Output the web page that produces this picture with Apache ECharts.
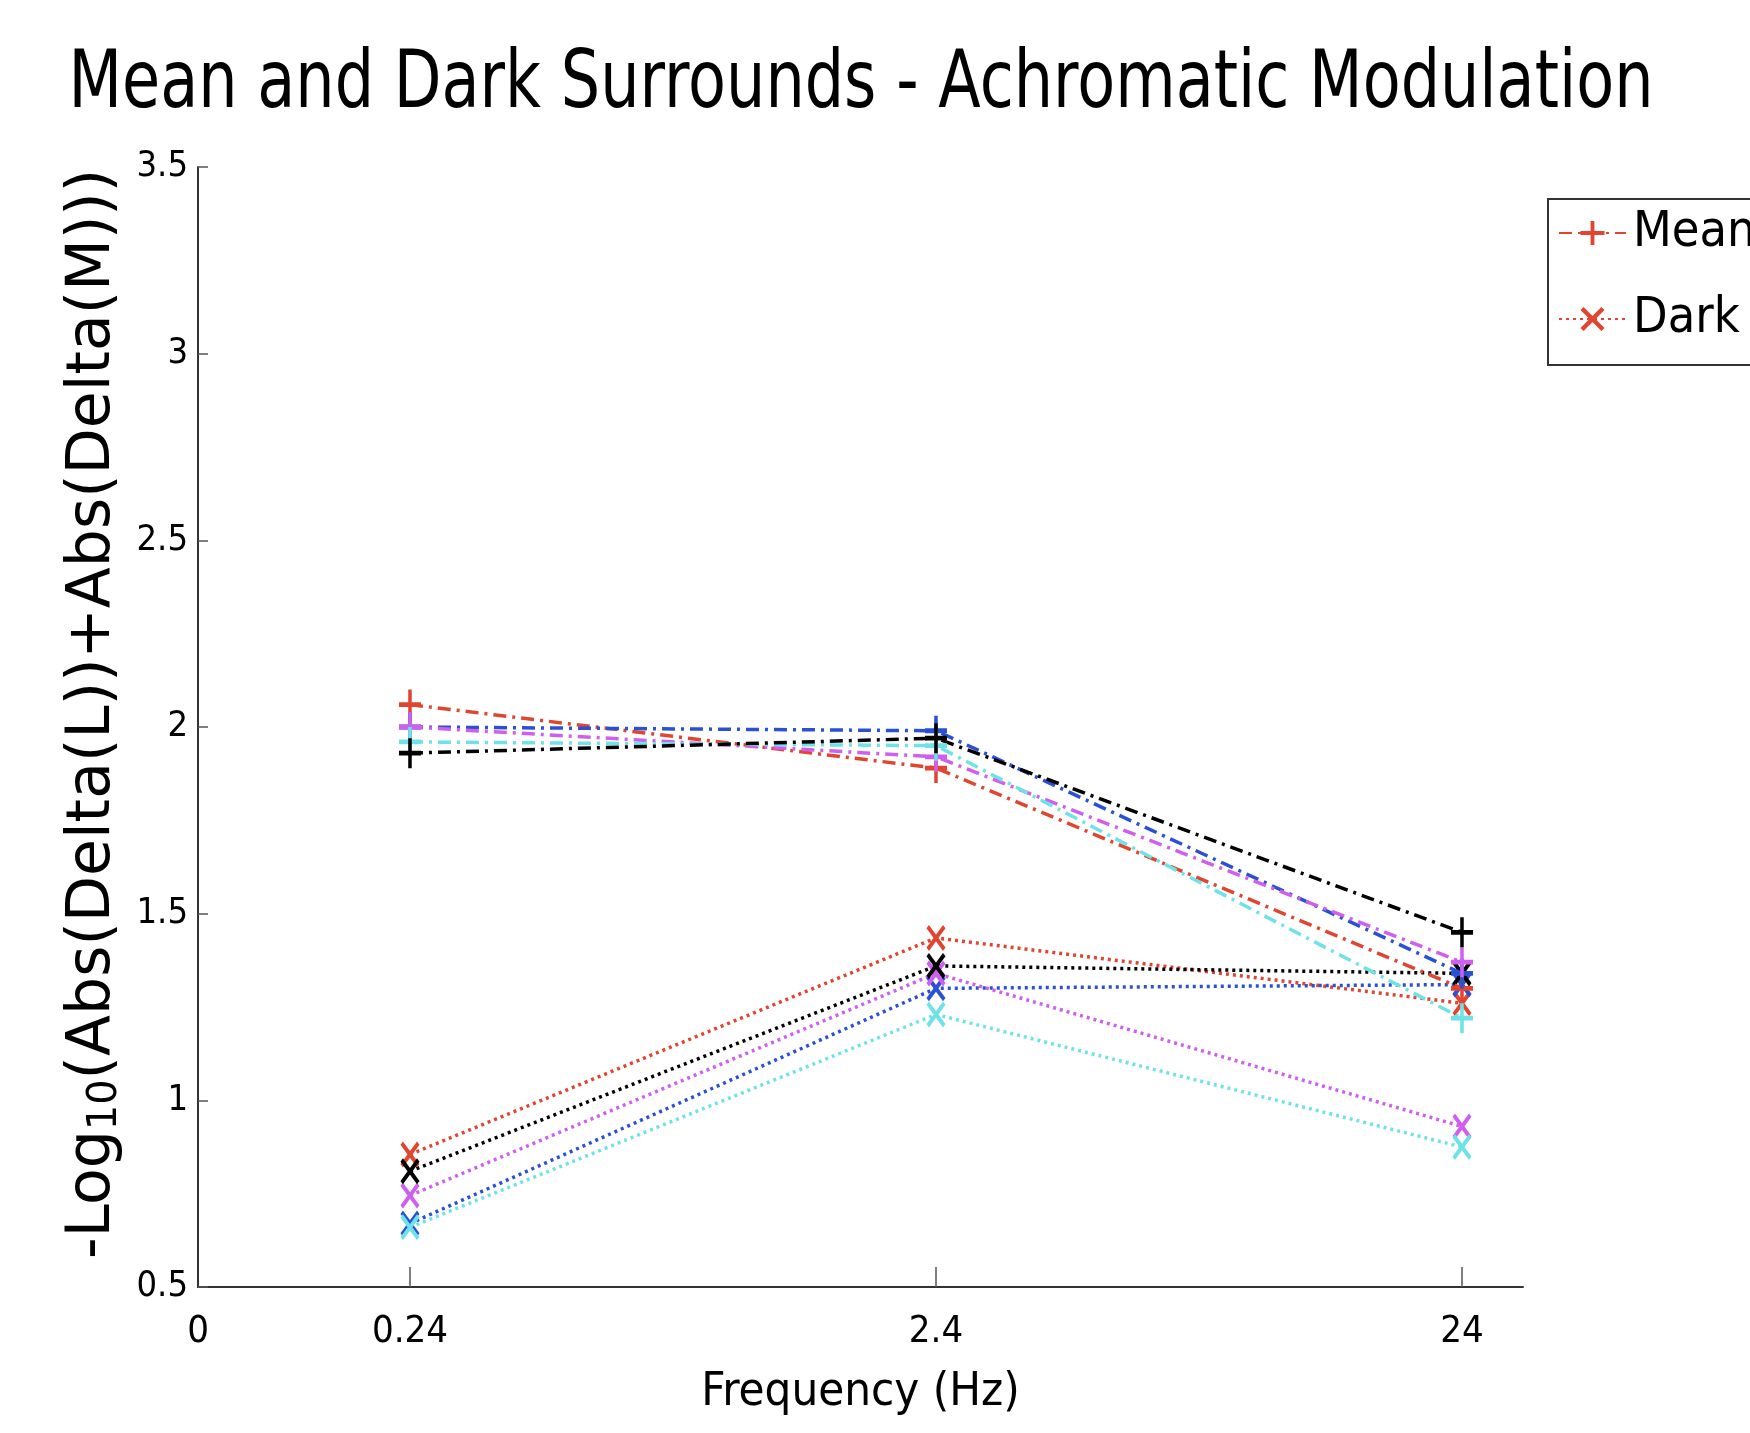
<!DOCTYPE html>
<html>
<head>
<meta charset="utf-8">
<script src="https://cdn.jsdelivr.net/npm/echarts@6/dist/echarts.min.js"></script>
<style>
html,body{margin:0;padding:0;background:#fff;}
#chart{width:1750px;height:1433px;}
</style>
</head>
<body>
<div id="chart"></div>
<script>
// ---------- data ----------
const titleText = 'Mean and Dark Surrounds - Achromatic Modulation';
const frequenciesHz = [0.24, 2.4, 24];
const xTickLabels = ['0', '0.24', '2.4', '24'];
const yTickValues = [0.5, 1, 1.5, 2, 2.5, 3, 3.5];

// Mean surround (dash-dot, "+")
const meanRed     = [2.06, 1.89, 1.30];
const meanBlue    = [2.00, 1.99, 1.34];
const meanMagenta = [2.00, 1.92, 1.37];
const meanCyan    = [1.96, 1.95, 1.22];
const meanBlack   = [1.93, 1.97, 1.45];

// Dark surround (dotted, "x")
const darkRed     = [0.855, 1.435, 1.26];
const darkBlue    = [0.67, 1.30, 1.31];
const darkMagenta = [0.745, 1.34, 0.93];
const darkCyan    = [0.66, 1.23, 0.875];
const darkBlack   = [0.81, 1.36, 1.34];

// ---------- styles ----------
const COLORS = { red: '#e2452f', blue: '#2a50d4', magenta: '#cf5fee', cyan: '#6fe2e8', black: '#000000' };
const NARROW = '"DejaVu Sans Condensed", "DejaVu Sans", sans-serif';
const PLUS = 'path://M0,0.42H1V0.58H0Z M0.42,0H0.58V1H0.42Z';
const CROSS = 'path://M0,0.13L0.13,0L1,0.87L0.87,1Z M0.87,0L1,0.13L0.13,1L0,0.87Z';
const X_MIN = Math.log10(0.24) - 0.403;
const X_MAX = Math.log10(24) + 0.116;

function toPoints(vals) {
  return frequenciesHz.map((f, i) => [Math.log10(f), vals[i]]);
}
function makeSeries(name, color, vals, kind, z) {
  const mean = kind === 'mean';
  return {
    name: name,
    type: 'line',
    data: toPoints(vals),
    symbol: mean ? PLUS : CROSS,
    symbolSize: mean ? [22, 30] : [19, 26],
    showAllSymbol: true,
    itemStyle: { color: color },
    lineStyle: { color: color, width: 3.5, type: mean ? [13, 6, 3, 6] : [3, 4] },
    emphasis: { disabled: true },
    animation: false,
    z: z
  };
}

const series = [
  makeSeries('Dark', COLORS.red, darkRed, 'dark', 2),
  makeSeries('Dark blue', COLORS.blue, darkBlue, 'dark', 2),
  makeSeries('Dark magenta', COLORS.magenta, darkMagenta, 'dark', 2),
  makeSeries('Dark cyan', COLORS.cyan, darkCyan, 'dark', 2),
  makeSeries('Dark black', COLORS.black, darkBlack, 'dark', 2),
  makeSeries('Mean', COLORS.red, meanRed, 'mean', 3),
  makeSeries('Mean blue', COLORS.blue, meanBlue, 'mean', 3),
  makeSeries('Mean magenta', COLORS.magenta, meanMagenta, 'mean', 3),
  makeSeries('Mean cyan', COLORS.cyan, meanCyan, 'mean', 3),
  makeSeries('Mean black', COLORS.black, meanBlack, 'mean', 3)
];

const xLabelValues = [X_MIN].concat(frequenciesHz.map(f => Math.log10(f)));

// title: measured so it can be condensed to the reference width
const TITLE_FONT_SIZE = 80;
const TITLE_TARGET_WIDTH = 1585;
const mctx = document.createElement('canvas').getContext('2d');
mctx.font = TITLE_FONT_SIZE + 'px "DejaVu Sans"';
const titleScaleX = Math.min(1, TITLE_TARGET_WIDTH / mctx.measureText(titleText).width);

const chart = echarts.init(document.getElementById('chart'), null, { renderer: 'canvas' });
chart.setOption({
  backgroundColor: '#ffffff',
  animation: false,
  graphic: [{
    type: 'text',
    x: 861,
    y: 86,
    scaleX: titleScaleX,
    silent: true,
    style: {
      text: titleText,
      fontFamily: '"DejaVu Sans"',
      fontSize: TITLE_FONT_SIZE,
      fill: '#000',
      align: 'center',
      verticalAlign: 'middle'
    }
  }],
  legend: {
    data: ['Mean', 'Dark'],
    orient: 'vertical',
    left: 1548,
    top: 199,
    padding: [9, 30, 21, 10],
    itemGap: 36,
    itemWidth: 67,
    itemHeight: 30,
    borderColor: '#333',
    borderWidth: 2,
    selectedMode: false,
    textStyle: { fontFamily: NARROW, fontSize: 50, color: '#000', padding: [0, 0, 0, 2] }
  },
  grid: { left: 198, top: 167, width: 1325, height: 1120, containLabel: false },
  xAxis: {
    type: 'value',
    min: X_MIN,
    max: X_MAX,
    name: 'Frequency (Hz)',
    nameLocation: 'middle',
    nameGap: 82,
    nameTextStyle: { fontFamily: NARROW, fontSize: 47, color: '#000' },
    axisLine: { show: true, onZero: false, lineStyle: { color: '#333', width: 2 } },
    axisTick: { show: true, inside: true, length: 20, customValues: frequenciesHz.map(f => Math.log10(f)), lineStyle: { color: '#555', width: 1.5 } },
    axisLabel: {
      customValues: xLabelValues,
      margin: 26,
      fontFamily: NARROW,
      fontSize: 38,
      color: '#000',
      formatter: function (v) {
        for (let i = 0; i < xLabelValues.length; i++) {
          if (Math.abs(xLabelValues[i] - v) < 1e-6) return xTickLabels[i];
        }
        return '';
      }
    },
    splitLine: { show: false }
  },
  yAxis: {
    type: 'value',
    min: yTickValues[0],
    max: yTickValues[yTickValues.length - 1],
    interval: 0.5,
    name: '{n|-Log}{s|10}{n|(Abs(Delta(L))+Abs(Delta(M)))}',
    nameLocation: 'middle',
    nameRotate: 90,
    nameGap: 64,
    nameTextStyle: {
      color: '#000',
      padding: [0, 0, 0, 26],
      rich: {
        n: { fontFamily: 'DejaVu Sans', fontSize: 60, lineHeight: 62, verticalAlign: 'top', color: '#000' },
        s: { fontFamily: 'DejaVu Sans', fontSize: 40, lineHeight: 42, verticalAlign: 'bottom', padding: [34, 0, 0, 0], color: '#000' }
      }
    },
    axisLine: { show: true, onZero: false, lineStyle: { color: '#333', width: 2 } },
    axisTick: { show: true, inside: true, length: 10, lineStyle: { color: '#555', width: 1.5 } },
    axisLabel: {
      margin: 10,
      fontFamily: NARROW,
      fontSize: 36,
      color: '#000',
      formatter: function (v) { return String(v); }
    },
    splitLine: { show: false }
  },
  series: series
});
</script>
</body>
</html>
